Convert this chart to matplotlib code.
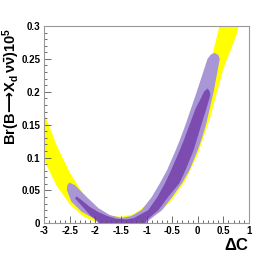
import matplotlib
matplotlib.use("Agg")
import matplotlib.pyplot as plt
from matplotlib.ticker import MultipleLocator

plt.rcParams["font.family"] = ["Liberation Sans", "DejaVu Sans"]
plt.rcParams["font.weight"] = "bold"
plt.rcParams["axes.unicode_minus"] = False
plt.rcParams["mathtext.fontset"] = "custom"
plt.rcParams["mathtext.rm"] = "Liberation Sans:bold"
plt.rcParams["mathtext.it"] = "Liberation Sans:bold"
plt.rcParams["mathtext.bf"] = "Liberation Sans:bold"
plt.rcParams["mathtext.sf"] = "DejaVu Sans:bold"

# yellow band: lower and upper edge
band_x = [-3.0, -2.75, -2.5, -2.25, -2.0, -1.75, -1.5, -1.25, -1.0, -0.75,
          -0.5, -0.25, 0.0, 0.25, 0.5, 0.75, 0.9]
band_lo = [0.095, 0.056, 0.029, 0.011, 0.002, 0.0, 0.0, 0.003, 0.010, 0.016,
           0.036, 0.064, 0.105, 0.163, 0.235, 0.285, 0.33]
band_hi = [0.167, 0.117, 0.077, 0.046, 0.024, 0.012, 0.010, 0.014, 0.028, 0.050,
           0.085, 0.125, 0.180, 0.245, 0.324, 0.40, 0.45]

# outer (light) contour
light_x = [-2.51, -2.40, -2.17, -1.94, -1.72, -1.50, -1.30, -1.10, -0.90, -0.74,
           -0.60, -0.43, -0.35, -0.24, -0.02, 0.19, 0.26, 0.33, 0.40, 0.43,
           0.31, 0.16, 0.07, 0.00, -0.16, -0.31, -0.50, -0.70, -0.95, -1.10,
           -1.80, -2.04, -2.27, -2.47, -2.56, -2.55]
light_y = [0.062, 0.058, 0.040, 0.023, 0.0126, 0.008, 0.011, 0.020, 0.040, 0.061,
           0.081, 0.1115, 0.127, 0.150, 0.200, 0.250, 0.257, 0.259, 0.256, 0.250,
           0.200, 0.150, 0.127, 0.1115, 0.081, 0.061, 0.040, 0.020, 0.005, -0.01,
           -0.01, 0.0076, 0.0177, 0.033, 0.0507, 0.058]

# inner (dark) contour
dark_x = [-2.37, -2.30, -2.11, -1.94, -1.78, -1.60, -1.39, -1.25, -0.97, -0.79,
          -0.64, -0.52, -0.35, -0.27, -0.16, -0.04, 0.06, 0.12, 0.19, 0.23,
          0.245, 0.17, 0.07, -0.02, -0.08, -0.24, -0.36, -0.58, -0.77, -1.00,
          -1.08, -1.96, -1.94, -2.11, -2.34, -2.40]
dark_y = [0.041, 0.037, 0.025, 0.017, 0.0115, 0.007, 0.006, 0.008, 0.020, 0.040,
          0.061, 0.081, 0.1115, 0.127, 0.150, 0.175, 0.190, 0.200, 0.205, 0.201,
          0.195, 0.175, 0.150, 0.127, 0.1115, 0.081, 0.061, 0.040, 0.020, 0.005,
          -0.01, -0.01, 0.0024, 0.0126, 0.033, 0.038]

x_ticks = [-3, -2.5, -2, -1.5, -1, -0.5, 0, 0.5, 1]
x_labels = ["-3", "-2.5", "-2", "-1.5", "-1", "-0.5", "0", "0.5", "1"]
y_ticks = [0, 0.05, 0.1, 0.15, 0.2, 0.25, 0.3]
y_labels = ["0", "0.05", "0.1", "0.15", "0.2", "0.25", "0.3"]

fig = plt.figure(figsize=(2.76, 2.64), dpi=100)
ax = fig.add_axes([0.1605, 0.154, 0.7415, 0.7475])

ax.fill_between(band_x, band_lo, band_hi, color="#ffff00", lw=0)
ax.fill(light_x, light_y, color="#a896d6", lw=0)
ax.fill(dark_x, dark_y, color="#7c4cb0", lw=0)

ax.set_xlim(-3, 1)
ax.set_ylim(0, 0.3)
ax.set_xticks(x_ticks)
ax.set_xticklabels(x_labels)
ax.set_yticks(y_ticks)
ax.set_yticklabels(y_labels)
ax.xaxis.set_minor_locator(MultipleLocator(0.1))
ax.yaxis.set_minor_locator(MultipleLocator(0.01))
ax.tick_params(which="both", direction="in", top=False, right=False,
               labelsize=7, color="#555555", width=0.6)
ax.tick_params(axis="x", which="major", length=5, pad=2)
ax.tick_params(axis="y", which="major", length=5, pad=3)
ax.tick_params(which="minor", length=2.5)
for s in ax.spines.values():
    s.set_color("#999999")
    s.set_linewidth(0.8)

fig.text(0.041, 0.894,
         r"$\mathrm{Br(B}\mathsf{\!\longrightarrow\!}\mathrm{X_d\,\nu\bar{\nu})10^5}$",
         rotation=90, ha="center", va="top", fontsize=10.5)
fig.text(0.902, 0.054, r"$\Delta$C", ha="right", va="baseline", fontsize=12)

fig.savefig("out.png", dpi=100)
